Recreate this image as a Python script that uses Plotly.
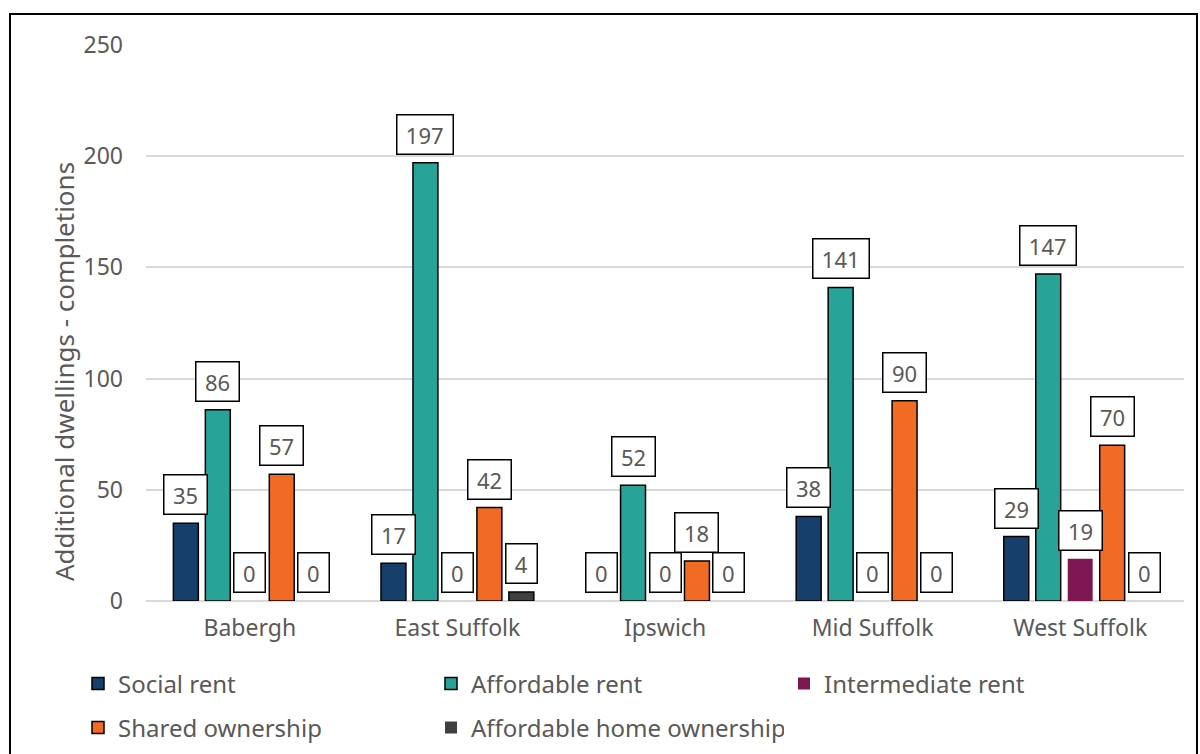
import plotly.graph_objects as go

# Affordable housing completions by district and tenure
districts = ["Babergh", "East Suffolk", "Ipswich", "Mid Suffolk", "West Suffolk"]
social_rent = [35, 17, 0, 38, 29]
affordable_rent = [86, 197, 52, 141, 147]
intermediate_rent = [0, 0, 0, 0, 19]
shared_ownership = [57, 42, 18, 90, 70]
affordable_home_ownership = [0, 4, 0, 0, 0]

series_names = ["Social rent", "Affordable rent", "Intermediate rent",
                "Shared ownership", "Affordable home ownership"]
series_values = [social_rent, affordable_rent, intermediate_rent,
                 shared_ownership, affordable_home_ownership]
series_colors = ["#16406B", "#27A398", "#7E1651", "#F26B24", "#404040"]
series_outline = [1.5, 1.5, 0, 1.5, 1.5]
series_legend = ["legend", "legend", "legend", "legend2", "legend2"]

y_ticks = [0, 50, 100, 150, 200, 250]
y_title = "Additional dwellings - completions"

FONT = "Noto Sans"
GREY = "#595959"
BAR_GAP = 0.23
GROUP_GAP = 0.22

# plot area geometry (px)
W, H = 1200, 754
L, R, T, B = 146, 16, 45, 153
PW, PH = W - L - R, H - T - B


def px_x(px):
    return (px - L) / PW


def px_y(py):
    return (H - B - py) / PH


fig = go.Figure()
for name, vals, col, lw, lg in zip(series_names, series_values, series_colors,
                                   series_outline, series_legend):
    # no outline on empty bars so nothing shows at zero
    widths = [lw if v > 0 else 0 for v in vals]
    fig.add_trace(go.Bar(
        name=name, x=districts, y=vals, legend=lg,
        marker=dict(color=col, line=dict(color="#000000", width=widths)),
    ))

# boxed value labels above each bar
n_series = len(series_names)
slot = (1 - BAR_GAP) / n_series
for i, vals in enumerate(series_values):
    for j, v in enumerate(vals):
        s = str(v)
        fig.add_annotation(
            x=j + (i - (n_series - 1) / 2) * slot, y=v,
            xref="x", yref="y", text=s, showarrow=False,
            yanchor="bottom", yshift=8,
            font=dict(family=FONT, size=22, color=GREY),
            bgcolor="#FFFFFF", bordercolor="#000000", borderwidth=1.5,
            borderpad=4, width=12.5 * len(s) + 9,
        )

# axis title
fig.add_annotation(
    x=px_x(44), y=px_y(372), xref="paper", yref="paper",
    text=y_title, textangle=-90, showarrow=False,
    font=dict(family=FONT, size=26, color=GREY),
)

# chart frame
fig.add_shape(
    type="rect", xref="paper", yref="paper",
    x0=px_x(10), x1=px_x(1197), y0=px_y(770), y1=px_y(14),
    line=dict(color="#000000", width=2), fillcolor="rgba(0,0,0,0)",
    layer="below",
)

legend_common = dict(
    orientation="h", xanchor="left", yanchor="middle",
    font=dict(family=FONT, size=24, color=GREY),
    entrywidth=308, entrywidthmode="pixels", itemwidth=30,
    bgcolor="rgba(0,0,0,0)", traceorder="normal",
)

fig.update_layout(
    width=W, height=H,
    margin=dict(l=L, r=R, t=T, b=B, autoexpand=False),
    paper_bgcolor="#FFFFFF", plot_bgcolor="#FFFFFF",
    barmode="group", bargap=BAR_GAP, bargroupgap=GROUP_GAP,
    font=dict(family=FONT, size=22, color=GREY),
    legend=dict(x=px_x(78), y=px_y(684), **legend_common),
    legend2=dict(x=px_x(78), y=px_y(728), **legend_common),
    xaxis=dict(
        type="category", showgrid=False, showline=False, ticks="",
        tickfont=dict(family=FONT, size=23, color=GREY),
        ticklabelstandoff=11,
    ),
    yaxis=dict(
        range=[0, 250], tickvals=y_ticks, showline=False, ticks="",
        gridcolor="#D9D9D9", gridwidth=2, zeroline=True,
        zerolinecolor="#D9D9D9", zerolinewidth=2,
        tickfont=dict(family=FONT, size=23, color=GREY),
        ticklabelstandoff=22,
    ),
)

fig.write_html("out.html")
